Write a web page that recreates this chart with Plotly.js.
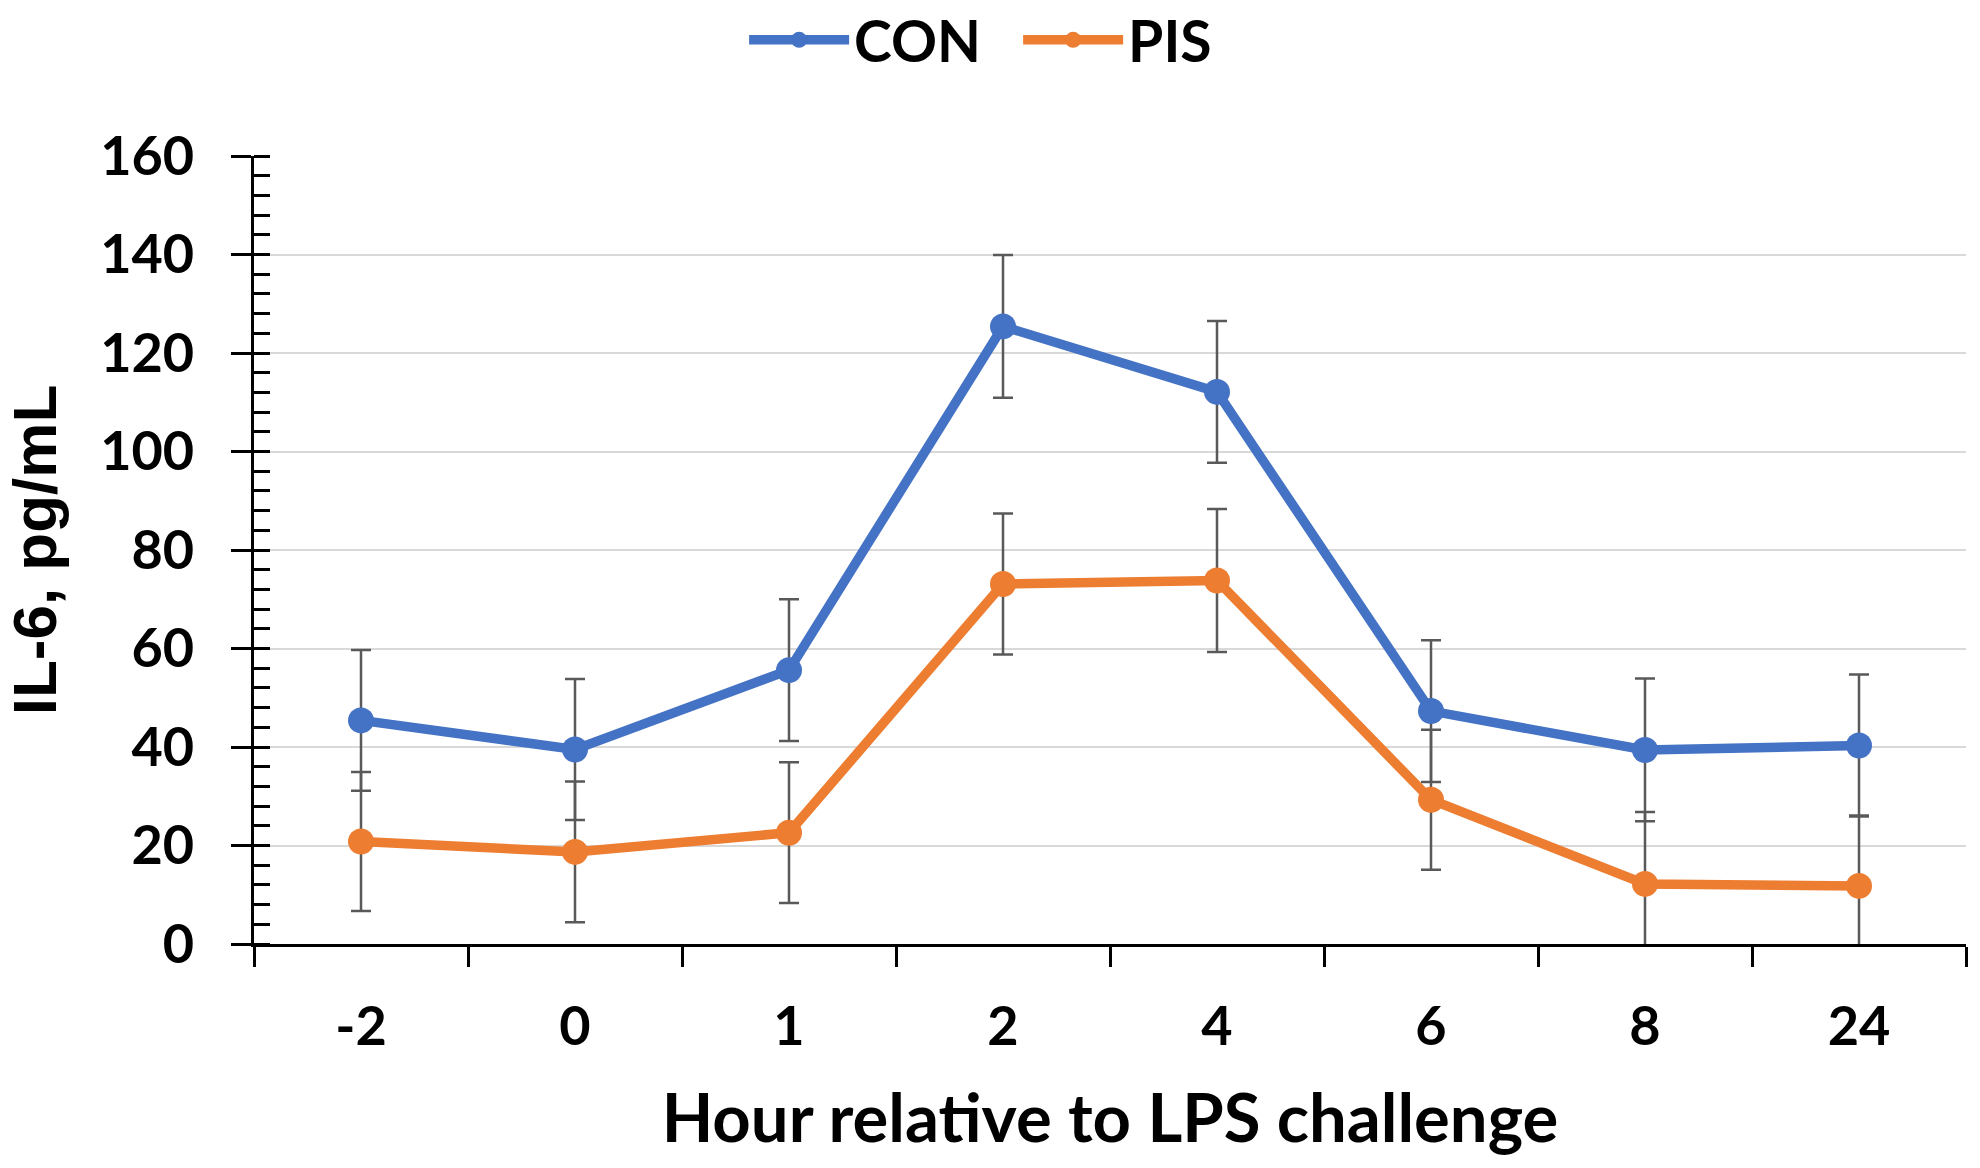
<!DOCTYPE html>
<html>
<head>
<meta charset="utf-8">
<script src="https://cdn.plot.ly/plotly-3.0.1.min.js"></script>
<style>html,body{margin:0;padding:0;background:#fff;}#chart{width:1980px;height:1168px;}</style>
</head>
<body>
<div id="chart"></div>
<script>
const hours = ['-2', '0', '1', '2', '4', '6', '8', '24'];
const conMean = [45.4, 39.5, 55.6, 125.4, 112.1, 47.3, 39.4, 40.3];
const conErr  = [14.3, 14.3, 14.4, 14.5, 14.4, 14.4, 14.5, 14.4];
const pisMean = [20.8, 18.7, 22.6, 73.1, 73.8, 29.3, 12.2, 11.8];
const pisErr  = [14.1, 14.3, 14.3, 14.3, 14.5, 14.2, 14.6, 14.3];
const seriesNames = ['CON', 'PIS'];
const yTicks = [0, 20, 40, 60, 80, 100, 120, 140, 160];

const tickFont = {family: 'Lato, "Open Sans", sans-serif', size: 54, color: '#000', weight: 700};
const errStyle = (arr) => ({type: 'data', array: arr, visible: true, color: '#595959', thickness: 2.5, width: 10});

const traces = [
  {
    x: hours, y: conMean, name: seriesNames[0], type: 'scatter', mode: 'lines+markers',
    line: {color: '#4472C4', width: 9.5}, marker: {color: '#4472C4', size: 26},
    error_y: errStyle(conErr)
  },
  {
    x: hours, y: pisMean, name: seriesNames[1], type: 'scatter', mode: 'lines+markers',
    line: {color: '#ED7D31', width: 9.5}, marker: {color: '#ED7D31', size: 26},
    error_y: errStyle(pisErr)
  }
];

const layout = {
  width: 1980, height: 1168,
  margin: {l: 254, r: 14, t: 156, b: 224, autoexpand: false},
  paper_bgcolor: '#fff', plot_bgcolor: '#fff',
  showlegend: true,
  legend: {
    orientation: 'h', xref: 'container', yref: 'container',
    x: 0.5142, xanchor: 'center', y: 0.9655, yanchor: 'middle',
    font: {family: 'Lato, "Open Sans", sans-serif', size: 57, color: '#000', weight: 700},
    itemwidth: 100, entrywidth: 159, entrywidthmode: 'pixels', traceorder: 'normal'
  },
  xaxis: {
    type: 'category', categoryorder: 'array', categoryarray: hours,
    range: [-0.5, 7.5], tickson: 'boundaries',
    ticks: 'outside', ticklen: 20, tickwidth: 3, tickcolor: '#000',
    showline: true, linewidth: 3, linecolor: '#000',
    showgrid: false, zeroline: false,
    tickfont: tickFont, ticklabelstandoff: 33,
    title: {text: 'Hour relative to LPS challenge', font: {family: 'Lato, "Open Sans", sans-serif', size: 67, color: '#000', weight: 700}, standoff: 40}
  },
  xaxis2: {
    overlaying: 'x', anchor: 'y', side: 'bottom',
    type: 'linear', range: [-0.5, 7.5], tickmode: 'linear', tick0: -0.5, dtick: 1,
    ticks: 'inside', ticklen: 20, tickwidth: 3, tickcolor: '#000',
    showticklabels: false, showline: false, showgrid: false, zeroline: false
  },
  xaxis3: {
    overlaying: 'x', anchor: 'y', side: 'bottom',
    type: 'linear', range: [-0.5, 7.5], tickmode: 'linear', tick0: 0, dtick: 1,
    ticks: 'inside', ticklen: 14, tickwidth: 3, tickcolor: '#000',
    showticklabels: false, showline: false, showgrid: false, zeroline: false
  },
  yaxis: {
    range: [0, 160], tickmode: 'array', tickvals: yTicks,
    ticks: 'outside', ticklen: 20, tickwidth: 3, tickcolor: '#000',
    minor: {dtick: 4, ticks: 'inside', ticklen: 16, tickwidth: 3, tickcolor: '#000', showgrid: false},
    showline: true, linewidth: 3, linecolor: '#000',
    showgrid: true, gridcolor: '#d9d9d9', gridwidth: 2, zeroline: false,
    tickfont: tickFont, ticklabelstandoff: 26,
    title: {text: 'IL-6, pg/mL', font: {family: '"Liberation Sans", Arial, sans-serif', size: 62, color: '#000', weight: 700}, standoff: 30}
  },
  yaxis2: {
    overlaying: 'y', anchor: 'x', side: 'left',
    range: [0, 160], tickmode: 'linear', tick0: 0, dtick: 20,
    ticks: 'inside', ticklen: 20, tickwidth: 3, tickcolor: '#000',
    showticklabels: false, showline: false, showgrid: false, zeroline: false
  }
};

Plotly.newPlot('chart', traces, layout, {displayModeBar: false, staticPlot: true});
</script>
</body>
</html>
